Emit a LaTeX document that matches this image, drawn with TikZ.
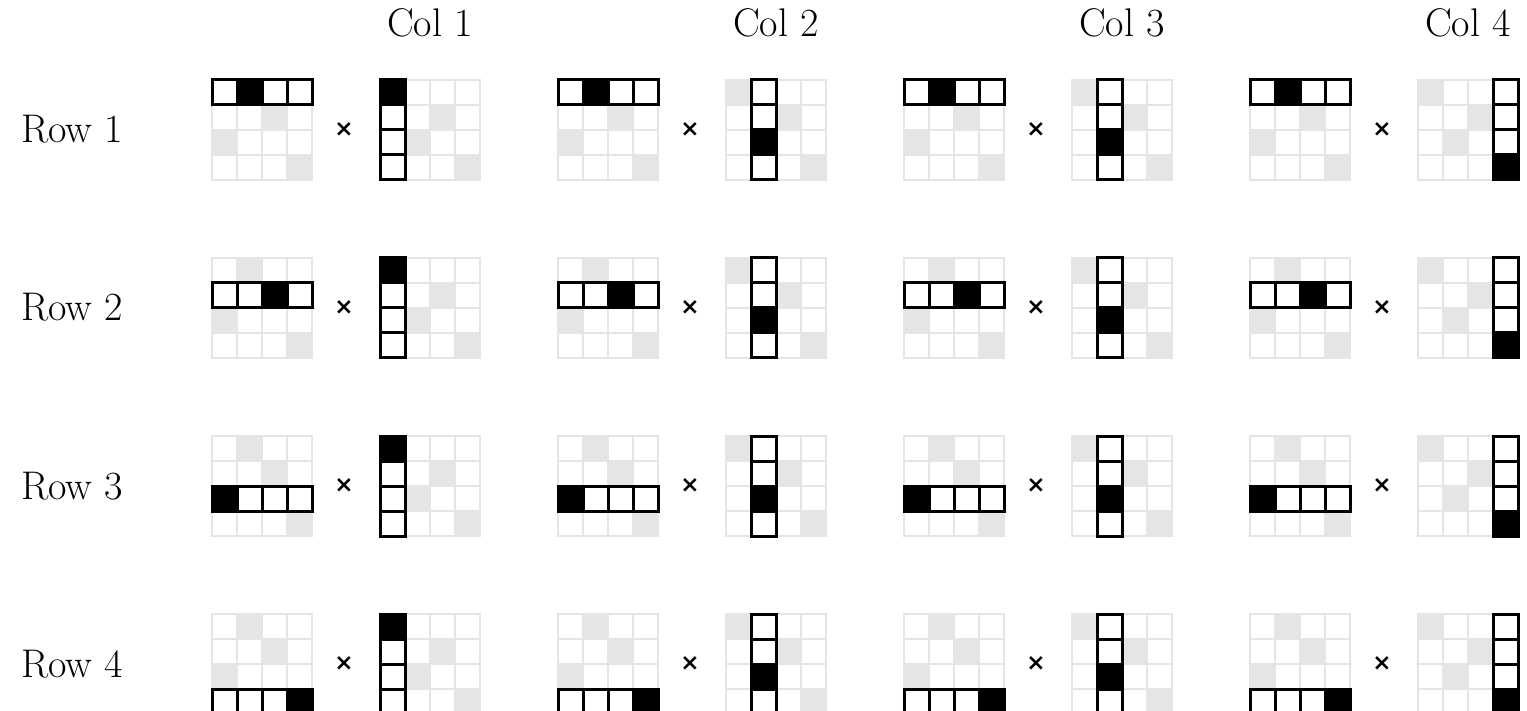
\documentclass[tikz,border=0pt]{standalone}
\usepackage{fontspec}
\newfontfamily\djvfont{DejaVu Sans}
\begin{document}
\begin{tikzpicture}[x=0.5pt,y=-0.5pt]
\tikzset{
 cell/.style={draw=black!10, line width=1.25pt, fill=white},
 graycell/.style={cell, fill=black!10},
 hicell/.style={draw=black, line width=1.5pt, fill=white},
 hiblack/.style={hicell, fill=black},
 lbl/.style={font=\fontsize{20}{24}\selectfont, inner sep=0pt, anchor=base},
 timesmark/.style={font=\djvfont\bfseries\fontsize{11.5}{12}\selectfont, inner sep=0pt}
}
\useasboundingbox (0,0) rectangle (1527,711);
% column labels
\foreach \j in {1,...,4}{
  \node[lbl] (col\j) at (430+346*\j-346, 37) {Col \j};
}
\foreach \i in {1,...,4}{
  \pgfmathsetmacro\yT{80+178*\i-178}
  \node[lbl] (row\i) at (72, \yT+63) {Row \i};
  \pgfmathtruncatemacro\pi{{2,3,1,4}[\i-1]}
  \foreach \j in {1,...,4}{
    \pgfmathsetmacro\xL{212+346*\j-346}
    \pgfmathsetmacro\xR{380+346*\j-346}
    \pgfmathtruncatemacro\hc{{1,2,2,4}[\j-1]}
    \pgfmathtruncatemacro\qh{{1,3,2,4}[\hc-1]}
    % left matrix background grid
    \foreach \r in {1,...,4}{\foreach \c in {1,...,4}{
      \pgfmathtruncatemacro\pc{{2,3,1,4}[\r-1]}
      \ifnum\c=\pc\def\st{graycell}\else\def\st{cell}\fi
      \path[\st] (\xL+25*\c-25, \yT+25*\r-25) rectangle +(25,25);
    }}
    % highlighted row
    \foreach \c in {1,...,4}{
      \ifnum\c=\pi\def\st{hiblack}\else\def\st{hicell}\fi
      \path[\st] (\xL+25*\c-25, \yT+25*\i-25) rectangle +(25,25);
    }
    % times sign
    \node[timesmark] (x\i\j) at (\xL+132, \yT+50) {×};
    % right matrix background grid
    \foreach \r in {1,...,4}{\foreach \c in {1,...,4}{
      \pgfmathtruncatemacro\qc{{1,3,2,4}[\c-1]}
      \ifnum\r=\qc\def\st{graycell}\else\def\st{cell}\fi
      \path[\st] (\xR+25*\c-25, \yT+25*\r-25) rectangle +(25,25);
    }}
    % highlighted column
    \foreach \r in {1,...,4}{
      \ifnum\r=\qh\def\st{hiblack}\else\def\st{hicell}\fi
      \path[\st] (\xR+25*\hc-25, \yT+25*\r-25) rectangle +(25,25);
    }
  }
}
\end{tikzpicture}
\end{document}
